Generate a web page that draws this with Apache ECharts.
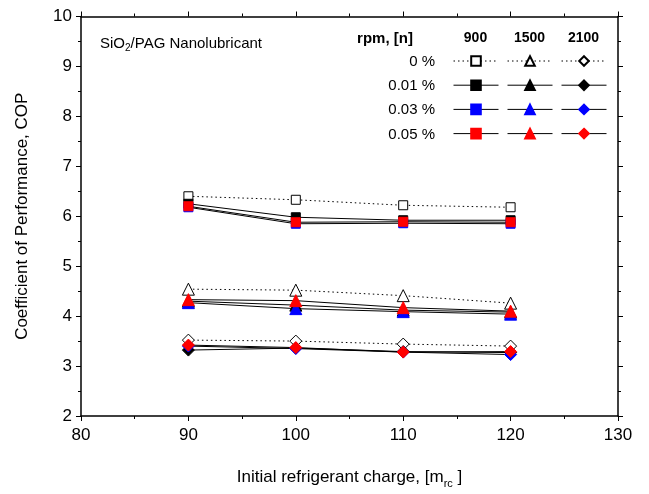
<!DOCTYPE html>
<html><head><meta charset="utf-8">
<script src="https://cdn.jsdelivr.net/npm/echarts@6/dist/echarts.min.js"></script>
<style>html,body{margin:0;padding:0;background:#fff}#c{width:649px;height:494px}</style>
</head><body><div id="c"></div>
<script>
const charges = [90, 100, 110, 120];
const rpmLabels = ['900', '1500', '2100'];
const concLabels = ['0 %', '0.01 %', '0.03 %', '0.05 %'];
const xTicks = [80, 90, 100, 110, 120, 130];
const yTicks = [2, 3, 4, 5, 6, 7, 8, 9, 10];

const cop900_0   = [6.40, 6.33, 6.22, 6.18];
const cop900_001 = [6.25, 5.98, 5.92, 5.92];
const cop900_003 = [6.18, 5.85, 5.86, 5.85];
const cop900_005 = [6.20, 5.88, 5.89, 5.88];
const cop1500_0   = [4.54, 4.52, 4.41, 4.26];
const cop1500_001 = [4.30, 4.22, 4.12, 4.08];
const cop1500_003 = [4.27, 4.15, 4.09, 4.04];
const cop1500_005 = [4.33, 4.31, 4.17, 4.10];
const cop2100_0   = [3.52, 3.50, 3.44, 3.40];
const cop2100_001 = [3.32, 3.36, 3.29, 3.27];
const cop2100_003 = [3.40, 3.35, 3.28, 3.23];
const cop2100_005 = [3.42, 3.37, 3.28, 3.29];

const groups = [
  {rpm: '900', symbol: 'rect', size: 9, data: [cop900_0, cop900_001, cop900_003, cop900_005]},
  {rpm: '1500', symbol: 'triangle', size: 12, data: [cop1500_0, cop1500_001, cop1500_003, cop1500_005]},
  {rpm: '2100', symbol: 'diamond', size: 12, data: [cop2100_0, cop2100_001, cop2100_003, cop2100_005]}
];
const fills = ['#ffffff', '#000000', '#0000ff', '#ff0000'];
const FONT = 'Liberation Sans, Arial, sans-serif';

const series = [];
const legends = [];
const legendLeft = [453, 507, 561];
const LH = 12;
groups.forEach((g, gi) => {
  const names = [];
  g.data.forEach((vals, ci) => {
    const name = concLabels[ci] + ' ' + g.rpm;
    names.push(name);
    series.push({
      name: name,
      type: 'line',
      data: charges.map((x, i) => [x, vals[i]]),
      symbol: g.symbol,
      symbolSize: g.size,
      z: 2 + ci,
      lineStyle: {color: '#000', width: 1, type: ci === 0 ? [1.5, 3] : 'solid'},
      itemStyle: {color: fills[ci], borderColor: ci === 0 ? '#000' : fills[ci], borderWidth: 1, opacity: 1},
      emphasis: {disabled: true},
      animation: false
    });
  });
  legends.push({
    data: names,
    orient: 'vertical',
    left: legendLeft[gi],
    top: 61 - LH / 2,
    padding: 0,
    itemWidth: 45,
    itemHeight: LH,
    itemGap: 24.4 - LH,
    formatter: () => '',
    selectedMode: false,
    lineStyle: {width: 1},
    textStyle: {fontSize: 1, padding: 0}
  });
});

const chart = echarts.init(document.getElementById('c'), null, {renderer: 'canvas'});
const axisCommon = {
  axisLine: {show: true, lineStyle: {color: '#000', width: 1.5}},
  axisTick: {show: true, inside: false, length: 5, lineStyle: {color: '#000', width: 1}},
  minorTick: {show: true, splitNumber: 2, length: 3, lineStyle: {color: '#000', width: 1}},
  splitLine: {show: false}
};
const rows = [61.5, 85.8, 110.2, 134.6];
const graphics = [
  {type: 'text', left: 100, top: 36, style: {
    text: '{n|SiO}{s|2}{n|/PAG Nanolubricant}',
    rich: {n: {fontSize: 15, fontFamily: FONT, fill: '#000'}, s: {fontSize: 10, fontFamily: FONT, fill: '#000', padding: [10, 0, 0, 0]}}
  }},
  {type: 'text', x: 385, y: 38.5, style: {text: 'rpm, [n]', font: 'bold 15px ' + FONT, fill: '#000', align: 'center', verticalAlign: 'middle'}}
];
rpmLabels.forEach((r, i) => {
  graphics.push({type: 'text', x: [475.5, 529.5, 583.5][i], y: 38.5, style: {text: r, font: 'bold 14px ' + FONT, fill: '#000', align: 'center', verticalAlign: 'middle'}});
});
concLabels.forEach((c, i) => {
  graphics.push({type: 'text', x: 435, y: rows[i], style: {text: c, font: '15px ' + FONT, fill: '#000', align: 'right', verticalAlign: 'middle'}});
});

chart.setOption({
  backgroundColor: '#fff',
  animation: false,
  grid: {left: 81, right: 31, top: 16.5, bottom: 72.5, containLabel: false},
  legend: legends,
  graphic: graphics,
  xAxis: [
    Object.assign({}, axisCommon, {
      type: 'value', min: xTicks[0], max: xTicks[xTicks.length - 1], interval: 10,
      position: 'bottom',
      axisLabel: {color: '#000', fontSize: 17, fontFamily: FONT, margin: 11},
      name: 'Initial refrigerant charge, [m{s|rc} ]',
      nameLocation: 'middle', nameGap: 50,
      nameTextStyle: {color: '#000', fontSize: 17, fontFamily: FONT,
        rich: {s: {fontSize: 11, fontFamily: FONT, color: '#000', padding: [12, 0, 0, 0]}}}
    }),
    Object.assign({}, axisCommon, {
      type: 'value', min: xTicks[0], max: xTicks[xTicks.length - 1], interval: 10,
      position: 'top', axisLabel: {show: false}
    })
  ],
  yAxis: [
    Object.assign({}, axisCommon, {
      type: 'value', min: yTicks[0], max: yTicks[yTicks.length - 1], interval: 1,
      position: 'left',
      axisLabel: {color: '#000', fontSize: 17, fontFamily: FONT, margin: 9},
      name: 'Coefficient of Performance, COP',
      nameLocation: 'middle', nameGap: 50, nameRotate: 90,
      nameTextStyle: {color: '#000', fontSize: 17, fontFamily: FONT}
    }),
    Object.assign({}, axisCommon, {
      type: 'value', min: yTicks[0], max: yTicks[yTicks.length - 1], interval: 1,
      position: 'right', axisLabel: {show: false}
    })
  ],
  series: series
});
</script></body></html>
